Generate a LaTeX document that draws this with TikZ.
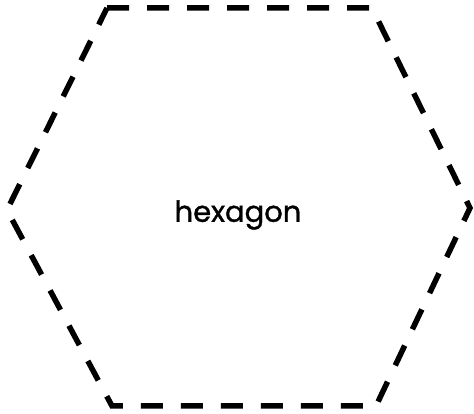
\documentclass[tikz,border=0pt]{standalone}
\usepackage{fontspec}
\newfontfamily\shapefont[FakeBold=1.2]{Poppins}
\usetikzlibrary{positioning}

\begin{document}
\begin{tikzpicture}[
  x=1pt, y=1pt,
  outline/.style={draw, line width=5.5pt, dash pattern=on 22pt off 18pt},
  lbl/.style={font=\shapefont\fontsize{29}{31}\selectfont, inner sep=0pt}
]
  \useasboundingbox (0,0) rectangle (474,414);
  \coordinate (tl) at (107,406);
  \coordinate (tr) at (372,406);
  \coordinate (r)  at (470,206);
  \coordinate (br) at (376,8);
  \coordinate (bl) at (112,8);
  \coordinate (l)  at (7,204);
  \draw[outline] (tl) -- (tr) -- (r) -- (br) -- (bl) -- (l) -- cycle;
  \node[lbl] (name) at (238,199) {hexagon};
\end{tikzpicture}
\end{document}
